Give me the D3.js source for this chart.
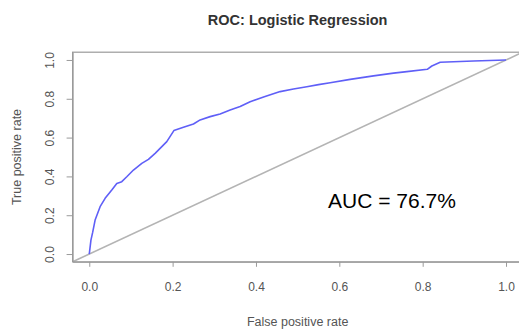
<!DOCTYPE html>
<html>
<head>
<meta charset="utf-8">
<script src="https://cdn.jsdelivr.net/npm/d3@7"></script>
<style>
  body { margin: 0; background: #fff; }
  svg { font-family: "Liberation Sans", Arial, sans-serif; }
</style>
</head>
<body>
<div id="chart"></div>
<script>
const width = 519
const height = 330

// ROC curve
const fpr = [0, 0.004, 0.008, 0.014, 0.026, 0.038, 0.054, 0.066, 0.078, 0.09, 0.106, 0.126, 0.142, 0.158, 0.186, 0.203, 0.226, 0.25, 0.266, 0.29, 0.314, 0.338, 0.362, 0.386, 0.42, 0.458, 0.49, 0.522, 0.55, 0.578, 0.626, 0.682, 0.73, 0.762, 0.811, 0.822, 0.842, 0.922, 1]
const tpr = [0, 0.072, 0.11, 0.175, 0.244, 0.287, 0.33, 0.364, 0.373, 0.398, 0.433, 0.467, 0.488, 0.519, 0.579, 0.636, 0.653, 0.67, 0.691, 0.708, 0.722, 0.742, 0.76, 0.785, 0.81, 0.837, 0.85, 0.862, 0.873, 0.883, 0.9, 0.918, 0.932, 0.94, 0.952, 0.969, 0.988, 0.995, 1]
const tickValues = [0, 0.2, 0.4, 0.6, 0.8, 1.0]
const chartTitle = "ROC: Logistic Regression"
const xTitle = "False positive rate"
const yTitle = "True positive rate"
const aucLabel = "AUC = 76.7%"

// R style 4% padding around [0,1]
let xScale = d3.scaleLinear()
    .domain([-0.04, 1.04])
    .range([72.6, 522.7])

let yScale = d3.scaleLinear()
    .domain([-0.04, 1.04])
    .range([261.8, 52.2])

const svg = d3.select("#chart").append("svg")
    .attr("width", width)
    .attr("height", height)

svg.append("defs").append("clipPath")
    .attr("id", "plot-clip")
  .append("rect")
    .attr("x", xScale(-0.04))
    .attr("y", yScale(1.04))
    .attr("width", xScale(1.04) - xScale(-0.04))
    .attr("height", yScale(-0.04) - yScale(1.04))

// diagonal reference line
svg.append("line")
    .attr("clip-path", "url(#plot-clip)")
    .attr("x1", xScale(-0.04)).attr("y1", yScale(-0.04))
    .attr("x2", xScale(1.04)).attr("y2", yScale(1.04))
    .attr("stroke", "#b4b4b4")
    .attr("stroke-width", 1.6)

let points = fpr.map((d, i) => ({ x: d, y: tpr[i] }))
let lineGenerator = d3.line().x(d => xScale(d.x)).y(d => yScale(d.y))

svg.append("path")
    .attr("d", lineGenerator(points))
    .attr("fill", "none")
    .attr("stroke", "#5f5ff7")
    .attr("stroke-width", 1.6)
    .attr("stroke-linejoin", "round")

// box
svg.append("rect")
    .attr("x", xScale(-0.04))
    .attr("y", yScale(1.04))
    .attr("width", xScale(1.04) - xScale(-0.04))
    .attr("height", yScale(-0.04) - yScale(1.04))
    .attr("fill", "none")
    .attr("stroke", "#9a9a9a")
    .attr("stroke-width", 1.2)

let xAxis = svg.append("g")
    .attr("transform", "translate(0," + yScale(-0.04) + ")")
    .call(d3.axisBottom(xScale).tickValues(tickValues).tickFormat(d3.format(".1f")).tickSize(5).tickPadding(16).tickSizeOuter(0))
xAxis.select(".domain").attr("stroke", "#9a9a9a")
xAxis.selectAll("line").attr("stroke", "#9a9a9a")
xAxis.selectAll("text").attr("fill", "#555").style("font-size", "12px")

let yAxis = svg.append("g")
    .attr("transform", "translate(" + xScale(-0.04) + ",0)")
    .call(d3.axisLeft(yScale).tickValues(tickValues).tickFormat(d3.format(".1f")).tickSize(6).tickSizeOuter(0))
yAxis.select(".domain").attr("stroke", "#9a9a9a")
yAxis.selectAll("line").attr("stroke", "#9a9a9a")
yAxis.selectAll("text")
    .attr("x", 0)
    .attr("dy", "0.35em")
    .attr("transform", "translate(-23,0) rotate(-90)")
    .attr("text-anchor", "middle")
    .attr("fill", "#555")
    .style("font-size", "12px")

// titles
svg.append("text")
    .attr("x", (xScale(-0.04) + xScale(1.04)) / 2)
    .attr("y", 25)
    .attr("text-anchor", "middle")
    .attr("fill", "#333")
    .style("font-size", "14.5px")
    .style("font-weight", 700)
    .text(chartTitle)

svg.append("text")
    .attr("x", (xScale(-0.04) + xScale(1.04)) / 2)
    .attr("y", 326)
    .attr("text-anchor", "middle")
    .attr("fill", "#555")
    .style("font-size", "12.5px")
    .text(xTitle)

svg.append("text")
    .attr("transform", "translate(21," + yScale(0.5) + ") rotate(-90)")
    .attr("text-anchor", "middle")
    .attr("fill", "#555")
    .style("font-size", "12.5px")
    .text(yTitle)

// annotation
svg.append("text")
    .attr("x", 328)
    .attr("y", 207.5)
    .attr("fill", "#000")
    .style("font-size", "21px")
    .text(aucLabel)
</script>
</body>
</html>
